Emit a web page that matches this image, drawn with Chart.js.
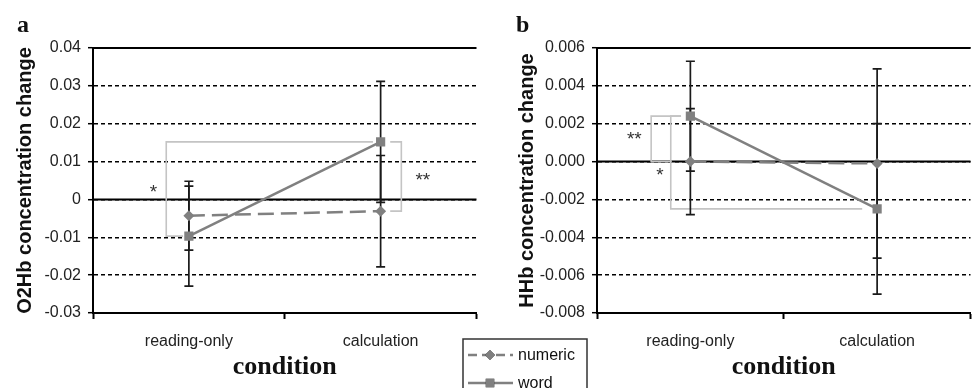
<!DOCTYPE html>
<html><head><meta charset="utf-8">
<script src="https://cdn.jsdelivr.net/npm/chart.js@4.4.0/dist/chart.umd.min.js"></script>
<style>
html,body{margin:0;padding:0;background:#fff;overflow:hidden;width:974px;height:388px;position:relative;}
#c1{position:absolute;left:0;top:0;}
#c2{position:absolute;left:455px;top:0;}
</style></head><body>
<canvas id="c1" width="483" height="388"></canvas>
<canvas id="c2" width="522" height="388"></canvas>
<script>
// ---- data ----
const categories = ['reading-only', 'calculation'];
const seriesNames = ['numeric', 'word'];
const o2hbNumeric = [-0.0043, -0.0031];
const o2hbWord = [-0.0097, 0.0152];
const o2hbNumericErr = [0.0091, 0.0147];
const o2hbWordErr = [0.0132, 0.0160];
const hhbNumeric = [0.0000, -0.0001];
const hhbWord = [0.0024, -0.0025];
const hhbNumericErr = [0.0028, 0.0050];
const hhbWordErr = [0.0029, 0.0045];
const o2hbTicks = ['-0.03', '-0.02', '-0.01', '0', '0.01', '0.02', '0.03', '0.04'];
const hhbTicks = ['-0.008', '-0.006', '-0.004', '-0.002', '0.000', '0.002', '0.004', '0.006'];

const SANS = '"Liberation Sans", Arial, sans-serif';
const SERIF = '"Liberation Serif", "Times New Roman", serif';
const GRAY = '#808080';

function datasets(num, numErr, word, wordErr) {
  return [
    { label: seriesNames[0], data: num, errorBars: numErr, borderColor: GRAY, backgroundColor: GRAY,
      borderWidth: 2.5, borderDash: [16, 7], pointStyle: 'rectRot', pointRadius: 5.5,
      pointBorderWidth: 0, pointBackgroundColor: GRAY, tension: 0 },
    { label: seriesNames[1], data: word, errorBars: wordErr, borderColor: GRAY, backgroundColor: GRAY,
      borderWidth: 2.5, pointStyle: 'rect', pointRadius: 6.5,
      pointBorderWidth: 0, pointBackgroundColor: GRAY, tension: 0 }
  ];
}

const decor = {
  id: 'decor',
  beforeDatasetsDraw(chart, args, opts) {
    const { ctx, chartArea: a, scales: { x, y } } = chart;
    ctx.save();
    ctx.strokeStyle = '#000'; ctx.lineWidth = 2;
    const yt = y.getPixelForValue(y.max);
    ctx.beginPath(); ctx.moveTo(a.left, yt); ctx.lineTo(a.right, yt); ctx.stroke();
    const y0 = y.getPixelForValue(0);
    ctx.beginPath(); ctx.moveTo(a.left, y0); ctx.lineTo(a.right, y0); ctx.stroke();
    // brackets
    for (const b of opts.brackets) {
      ctx.strokeStyle = '#c4c4c4'; ctx.lineWidth = 1.6;
      const xv = x.getPixelForValue(b.x);
      const y1 = y.getPixelForValue(b.from), y2 = y.getPixelForValue(b.to);
      ctx.beginPath();
      ctx.moveTo(x.getPixelForValue(b.arm1), y1);
      ctx.lineTo(xv, y1); ctx.lineTo(xv, y2);
      ctx.lineTo(x.getPixelForValue(b.arm2), y2);
      ctx.stroke();
      ctx.fillStyle = '#333'; ctx.font = '19px ' + SANS;
      ctx.textAlign = 'center'; ctx.textBaseline = 'middle';
      ctx.fillText(b.label, x.getPixelForValue(b.lx), y.getPixelForValue(b.ly) + 3);
    }
    // error bars
    ctx.strokeStyle = '#1a1a1a'; ctx.lineWidth = 1.7;
    chart.data.datasets.forEach(ds => {
      ds.data.forEach((v, i) => {
        const e = ds.errorBars[i];
        const px = x.getPixelForValue(i);
        const top = y.getPixelForValue(v + e), bot = y.getPixelForValue(v - e);
        ctx.beginPath();
        ctx.moveTo(px, top); ctx.lineTo(px, bot);
        ctx.moveTo(px - 4.5, top); ctx.lineTo(px + 4.5, top);
        ctx.moveTo(px - 4.5, bot); ctx.lineTo(px + 4.5, bot);
        ctx.stroke();
      });
    });
    ctx.restore();
  },
  afterDraw(chart, args, opts) {
    const { ctx } = chart;
    ctx.save();
    ctx.fillStyle = '#111';
    ctx.font = 'bold 24px ' + SERIF;
    ctx.textAlign = 'left'; ctx.textBaseline = 'alphabetic';
    ctx.fillText(opts.letter, opts.letterX, 32);
    if (opts.legend) {
      const L = opts.legend;
      ctx.strokeStyle = '#333'; ctx.lineWidth = 1.5;
      ctx.strokeRect(L.x, L.y, L.w, L.h);
      chart.data.datasets.forEach((ds, i) => {
        const yy = L.y + 16 + i * 28;
        ctx.strokeStyle = ds.borderColor; ctx.lineWidth = ds.borderWidth;
        ctx.setLineDash(ds.borderDash ? [9, 5] : []);
        ctx.beginPath(); ctx.moveTo(L.x + 5, yy); ctx.lineTo(L.x + 50, yy); ctx.stroke();
        ctx.setLineDash([]);
        Chart.helpers.drawPoint(ctx, { pointStyle: ds.pointStyle, radius: ds.pointRadius - 0.5, borderWidth: 0, rotation: 0 }, L.x + 27, yy);
        ctx.fillStyle = ds.pointBackgroundColor; ctx.fill();
        ctx.fillStyle = '#111'; ctx.font = '16px ' + SANS; ctx.textBaseline = 'middle';
        ctx.fillText(ds.label, L.x + 55, yy + 1);
      });
    }
    ctx.restore();
  }
};

function opts(cfg) {
  return {
    responsive: false, animation: false, devicePixelRatio: 1,
    layout: { padding: { left: 0, top: 48, right: 0, bottom: 0 } },
    plugins: {
      legend: { display: false }, tooltip: { enabled: false },
      decor: cfg.decor
    },
    scales: {
      x: {
        offset: true,
        ticks: { font: { family: SANS, size: 16 }, color: '#222', padding: 13, maxRotation: 0 },
        grid: { offset: true, drawOnChartArea: false, drawTicks: true, tickLength: 6, tickColor: '#000', tickWidth: 2 },
        border: { display: true, color: '#000', width: 2 },
        title: { display: true, text: 'condition', color: '#111',
          font: { family: SERIF, size: 26, weight: 'bold' }, padding: { top: 0, bottom: 5 } },
        afterFit: s => { s.height = 75; }
      },
      y: {
        min: cfg.min, max: cfg.max,
        ticks: { stepSize: cfg.step, autoSkip: false, font: { family: SANS, size: 16 }, color: '#222', padding: 7,
          callback: v => cfg.labels[Math.round((v - cfg.min) / cfg.step)] },
        grid: { color: '#000', lineWidth: 1.4, drawTicks: true, tickLength: 5, tickColor: '#000', tickWidth: 1.5 },
        border: { display: true, color: '#000', width: 2, dash: [4, 3] },
        title: { display: true, text: cfg.title, color: '#111',
          font: { family: SANS, size: 20, weight: 'bold' }, padding: { top: cfg.titlePad, bottom: 0 } },
        afterFit: s => { s.width = cfg.yWidth; }
      }
    }
  };
}

new Chart(document.getElementById('c1'), {
  type: 'line',
  data: { labels: categories, datasets: datasets(o2hbNumeric, o2hbNumericErr, o2hbWord, o2hbWordErr) },
  options: opts({
    min: -0.03, max: 0.04, step: 0.01, labels: o2hbTicks, title: 'O2Hb concentration change',
    titlePad: 13, yWidth: 93,
    decor: {
      letter: 'a', letterX: 17,
      brackets: [
        { x: -0.118, from: o2hbWord[1], to: o2hbWord[0], arm1: 0.96, arm2: -0.03, label: '*', lx: -0.185, ly: 0.0026 },
        { x: 1.108, from: o2hbWord[1], to: o2hbNumeric[1], arm1: 1.05, arm2: 1.05, label: '**', lx: 1.22, ly: 0.0058 }
      ]
    }
  }),
  plugins: [decor]
});

new Chart(document.getElementById('c2'), {
  type: 'line',
  data: { labels: categories, datasets: datasets(hhbNumeric, hhbNumericErr, hhbWord, hhbWordErr) },
  options: opts({
    min: -0.008, max: 0.006, step: 0.002, labels: hhbTicks, title: 'HHb concentration change',
    titlePad: 60, yWidth: 142,
    decor: {
      letter: 'b', letterX: 61,
      legend: { x: 8, y: 339, w: 124, h: 60 },
      brackets: [
        { x: -0.21, from: hhbWord[0], to: hhbNumeric[0], arm1: -0.05, arm2: -0.1, label: '**', lx: -0.3, ly: 0.0013 },
        { x: -0.105, from: hhbWord[0], to: hhbWord[1], arm1: -0.05, arm2: 0.92, label: '*', lx: -0.163, ly: -0.0006 }
      ]
    }
  }),
  plugins: [decor]
});
</script>
</body></html>
